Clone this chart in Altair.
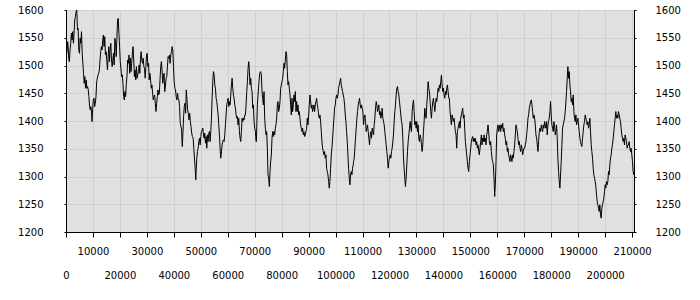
import altair as alt
import pandas as pd

# (x, value) pairs, segment by segment
seg_a = [(0,1516),(375,1525),(625,1543),(875,1528),(1000,1513),(1250,1507),(1500,1528),(1750,1540),(2000,1558),(2250,1546),(2500,1561),(2750,1540),(3000,1558),(3250,1582),(3500,1588),(3750,1597),(4000,1600),(4250,1564),(4500,1567),(4750,1528),(5000,1522),(5250,1549),(5500,1540),(5750,1561),(6000,1522),(6250,1504),(6500,1486),(6750,1468),(7000,1480),(7250,1459),(7500,1474),(7750,1459),(8000,1462),(8250,1456),(8500,1444),(8750,1426),(9000,1420),(9250,1426),(9500,1414),(9625,1399),(9875,1420),(10125,1438),(10375,1441),(10625,1426),(10875,1432),(11125,1444),(11375,1471),(11625,1477),(11875,1483),(12125,1486),(12375,1492),(12625,1510),(12875,1525),(13125,1534),(13375,1528),(13625,1546),(13875,1555),(14125,1534),(14375,1552),(14625,1519),(14875,1525),(15125,1510),(15375,1492),(15625,1513),(15875,1534),(16125,1507),(16375,1528),(16625,1540),(16875,1510),(17125,1498),(17375,1510),(17625,1522),(17875,1501),(18125,1549),(18375,1540),(18625,1516),(18875,1549),(19125,1582),(19375,1585),(19625,1558),(19875,1534),(20125,1507),(20375,1495),(20625,1480),(20875,1483),(21125,1468),(21375,1444),(21625,1438),(21875,1453),(22125,1444),(22375,1468),(22625,1480),(22875,1510),(23125,1504),(23375,1519),(23625,1486),(23875,1513),(24125,1489),(24375,1504),(24625,1522),(24875,1534),(25125,1510),(25375,1480),(25625,1492),(25875,1474),(26125,1498),(26375,1477),(26625,1483),(26875,1489),(27125,1501),(27375,1486),(27625,1513),(27875,1525),(28125,1510),(28375,1504),(28625,1513),(28875,1498),(29125,1495),(29375,1477),(29625,1498),(29875,1519),(30125,1522),(30375,1498),(30625,1504),(30875,1474),(31125,1486),(31375,1474),(31625,1459),(31875,1465),(32125,1450),(32375,1438),(32625,1444),(32875,1447),(33125,1432),(33375,1417),(33625,1432),(33875,1444),(34125,1456),(34375,1447),(34625,1450),(34875,1474),(35125,1498),(35375,1507),(35625,1492),(35875,1468),(36125,1477),(36375,1486),(36625,1453),(36875,1462),(37125,1477),(37375,1480),(37625,1498),(37875,1516),(38125,1513),(38375,1519),(38625,1504),(38875,1519),(39125,1525),(39375,1534),(39625,1528),(39875,1498),(40125,1471),(40375,1459),(40625,1456),(40875,1444),(41125,1438),(41375,1450),(41625,1441),(41875,1438),(42125,1426),(42375,1396),(42625,1390),(42875,1384),(43125,1354),(43375,1378),(43625,1408),(43875,1426),(44125,1432),(44375,1414),(44625,1456),(44875,1438),(45125,1420),(45375,1414),(45625,1402),(45875,1414),(46125,1399),(46375,1390),(46625,1378),(46875,1372)]

seg_b = [(47163,1369),(47410,1351),(47657,1333),(47904,1315),(48151,1294),(48275,1309),(48522,1333),(48769,1345),(49016,1351),(49263,1363),(49510,1369),(49757,1357),(50004,1372),(50251,1381),(50498,1384),(50745,1387),(50992,1375),(51239,1369),(51486,1378),(51733,1360),(51980,1372),(52227,1351),(52474,1375),(52721,1363),(52968,1378),(53215,1381),(53462,1363),(53709,1381),(53956,1405),(54203,1441),(54450,1471),(54697,1489),(54944,1483),(55191,1465),(55438,1459),(55685,1441),(55932,1435),(56179,1423),(56426,1411),(56673,1393),(56920,1375),(57167,1351),(57414,1333),(57661,1345),(57908,1357),(58155,1363),(58402,1366),(58649,1363),(58896,1375),(59143,1393),(59390,1411),(59637,1429),(59884,1435),(60131,1441),(60378,1426),(60625,1435),(60872,1429),(61119,1447),(61366,1465),(61613,1477),(61860,1459),(62107,1447),(62354,1441),(62601,1429),(62848,1423),(63095,1411),(63342,1405),(63589,1408),(63836,1393),(64083,1405),(64330,1381),(64577,1369),(64824,1363),(65071,1381),(65318,1405),(65565,1399),(65812,1405),(66059,1402),(66306,1411),(66553,1411),(66800,1429),(67047,1453),(67294,1471),(67541,1495),(67788,1507),(68035,1489),(68282,1465),(68529,1477),(68776,1459),(69023,1453),(69270,1423),(69517,1429),(69764,1399),(70011,1387),(70258,1381),(70505,1363)]

seg_c = [(70614,1363),(70985,1429),(71232,1447),(71602,1471),(71849,1486),(72220,1489),(72467,1483),(72714,1453),(72961,1441),(73208,1429),(73455,1453),(73702,1405),(73949,1387),(74196,1375),(74443,1381),(74690,1351),(74937,1303),(75184,1297),(75431,1282),(75678,1309),(75925,1327),(76172,1339),(76419,1369),(76666,1381),(76913,1372),(77160,1381),(77407,1375),(77654,1387),(77901,1393),(78148,1405),(78395,1429),(78642,1435),(78889,1417),(79136,1423),(79383,1435),(79630,1459),(79877,1465),(80124,1471),(80371,1477),(80618,1489),(80865,1504),(81112,1495),(81359,1510),(81606,1525),(81853,1519),(82100,1489),(82347,1465),(82594,1471),(82841,1459),(83088,1447),(83335,1429),(83582,1411),(83829,1441),(84076,1417),(84323,1429),(84570,1447),(84817,1435),(85064,1453),(85311,1417),(85558,1435),(85805,1417),(86052,1429),(86299,1411),(86546,1417),(86793,1405),(87040,1393),(87287,1387),(87534,1381),(87781,1387),(88028,1375),(88275,1381),(88522,1372),(88769,1375),(89016,1381),(89263,1387),(89510,1405),(89757,1393),(90004,1411),(90251,1429),(90498,1447),(90745,1435),(90992,1423),(91239,1429),(91486,1417),(91733,1423),(91980,1429),(92227,1417),(92474,1429),(92721,1435),(92968,1441),(93215,1429),(93462,1423),(93709,1411),(93956,1405),(94203,1411),(94450,1399),(94697,1381),(94944,1363),(95191,1351),(95438,1345),(95685,1339),(95932,1345),(96179,1333),(96426,1339),(96673,1315),(96920,1309),(97167,1303),(97414,1291),(97661,1279),(97908,1291),(98155,1315),(98402,1339),(98649,1351),(98896,1369),(99143,1387),(99390,1405),(99637,1423),(99884,1429),(100131,1441),(100378,1447),(100625,1441),(100872,1447),(101119,1459),(101366,1465),(101613,1471),(101860,1477),(102107,1465),(102354,1459),(102601,1453),(102848,1447),(103095,1441),(103342,1429),(103589,1411),(103836,1399),(104083,1381),(104330,1363),(104577,1339),(104824,1315),(105071,1297),(105318,1285),(105565,1303),(105812,1309),(106059,1303),(106306,1315),(106553,1321)]

seg_d = [(106666,1327),(106913,1333),(107160,1351),(107407,1369),(107654,1387),(107901,1405),(108148,1417),(108395,1429),(108642,1435),(108889,1441),(109136,1429),(109383,1423),(109630,1429),(109877,1423),(110124,1417),(110371,1393),(110618,1405),(110865,1411),(111112,1399),(111359,1381),(111606,1387),(111853,1393),(112100,1381),(112347,1369),(112594,1357),(112841,1375),(113088,1381),(113335,1369),(113582,1387),(113829,1381),(114076,1375),(114323,1393),(114570,1405),(114817,1423),(115064,1435),(115311,1429),(115558,1417),(115805,1423),(116052,1429),(116299,1411),(116546,1417),(116793,1405),(117040,1411),(117287,1423),(117534,1405),(117781,1399),(118028,1393),(118275,1381),(118522,1369),(118769,1357),(119016,1345),(119263,1333),(119510,1315),(119757,1327),(120004,1333),(120251,1339),(120498,1333),(120745,1345),(120992,1351),(121239,1363),(121486,1375),(121733,1399),(121980,1417),(122227,1429),(122474,1447),(122721,1459),(122968,1462),(123215,1453),(123462,1447),(123709,1435),(123956,1423),(124203,1411),(124450,1399),(124697,1393),(124944,1369),(125191,1333),(125438,1315),(125685,1297),(125932,1282),(126179,1297),(126426,1321),(126673,1345),(126920,1363),(127167,1375),(127414,1387),(127661,1399),(127908,1387),(128155,1381),(128402,1417),(128649,1429),(128896,1438),(129143,1417),(129390,1393),(129637,1399),(129884,1387),(130131,1399),(130378,1381),(130625,1393),(130872,1369),(131119,1363),(131366,1375),(131613,1369),(131860,1357),(132107,1345),(132354,1357),(132601,1381),(132848,1399),(133095,1423),(133342,1411),(133589,1405),(133836,1429),(134083,1447),(134330,1471),(134577,1459),(134824,1453),(135071,1435),(135318,1417),(135565,1405),(135812,1423),(136059,1435),(136306,1441),(136553,1429),(136800,1417),(137047,1429),(137294,1441),(137541,1435),(137788,1447),(138035,1459),(138282,1453),(138529,1465),(138776,1459),(139023,1471),(139270,1483),(139517,1465),(139764,1453),(140011,1459),(140258,1447),(140505,1441),(140752,1453),(140999,1447),(141246,1459),(141493,1465),(141740,1453),(141987,1441)]

seg_e = [(142219,1441),(142466,1417),(142713,1405),(142960,1393),(143207,1411),(143454,1405),(143701,1399),(143948,1405),(144195,1393),(144442,1381),(144689,1375),(144936,1351),(145183,1381),(145430,1387),(145677,1393),(145924,1399),(146171,1387),(146418,1405),(146665,1411),(146912,1417),(147159,1423),(147406,1405),(147653,1411),(147900,1387),(148147,1363),(148394,1351),(148641,1339),(148888,1327),(149135,1315),(149382,1309),(149629,1327),(149876,1339),(150123,1351),(150370,1363),(150617,1369),(150864,1372),(151111,1363),(151358,1369),(151605,1363),(151852,1369),(152099,1357),(152346,1363),(152593,1351),(152840,1357),(153087,1345),(153334,1339),(153581,1351),(153828,1363),(154075,1375),(154322,1357),(154569,1369),(154816,1363),(155063,1375),(155310,1363),(155557,1369),(155804,1357),(156051,1375),(156298,1381),(156545,1393),(156792,1381),(157039,1363),(157286,1357),(157533,1363),(157780,1345),(158027,1333),(158274,1327),(158521,1321),(158768,1297),(159015,1264),(159262,1285),(159509,1327),(159756,1375),(160003,1387),(160250,1393),(160497,1381),(160744,1387),(160991,1393),(161238,1381),(161485,1393),(161732,1387),(161979,1396),(162226,1381),(162473,1387),(162720,1375),(162967,1369),(163214,1357),(163461,1363),(163708,1345),(163955,1351),(164202,1339),(164449,1333),(164696,1327),(164943,1339),(165190,1333),(165437,1327),(165684,1339),(165931,1333),(166178,1345),(166425,1357),(166672,1375),(166919,1393),(167166,1387),(167413,1381),(167660,1369),(167907,1357),(168154,1363),(168401,1351),(168648,1345),(168895,1357),(169142,1351),(169389,1339),(169636,1345),(169883,1351),(170130,1351),(170377,1357),(170624,1363),(170871,1375),(171118,1387),(171365,1405),(171612,1411),(171859,1423),(172106,1429),(172353,1435),(172600,1438),(172847,1429),(173094,1417),(173341,1405),(173588,1411),(173835,1405),(174082,1393),(174329,1375),(174576,1369),(174823,1357),(175070,1345),(175317,1363),(175564,1381),(175811,1387),(176058,1381),(176305,1393),(176552,1387),(176799,1381),(177046,1393),(177293,1387),(177540,1399),(177787,1393)]

seg_f = [(178024,1387),(178271,1399),(178518,1375),(178765,1393),(179012,1399),(179259,1405),(179506,1417),(179753,1435),(180000,1411),(180247,1393),(180494,1387),(180741,1381),(180988,1399),(181235,1393),(181482,1375),(181729,1381),(181976,1393),(182223,1369),(182470,1333),(182717,1309),(182964,1291),(183211,1279),(183458,1303),(183705,1327),(183952,1357),(184199,1387),(184446,1393),(184693,1399),(184940,1405),(185187,1417),(185434,1435),(185681,1453),(185928,1477),(186175,1498),(186422,1477),(186669,1489),(186916,1465),(187163,1453),(187410,1435),(187657,1441),(187904,1429),(188151,1447),(188398,1417),(188645,1405),(188892,1399),(189139,1411),(189386,1393),(189633,1399),(189880,1405),(190127,1393),(190374,1381),(190621,1369),(190868,1363),(191115,1357),(191362,1354),(191609,1369),(191856,1381),(192103,1393),(192350,1399),(192597,1411),(192844,1405),(193091,1399),(193338,1393),(193585,1399),(193832,1387),(194079,1393),(194326,1405),(194573,1381),(194820,1357),(195067,1345),(195314,1333),(195561,1315),(195808,1303),(196055,1297),(196302,1291),(196549,1282),(196796,1267),(197043,1255),(197290,1249),(197537,1243),(197784,1237),(198031,1249),(198278,1231),(198525,1225),(198772,1243),(199019,1249),(199266,1255),(199513,1261),(199760,1273),(200007,1285),(200254,1279),(200501,1291),(200748,1285),(200995,1291),(201242,1309),(201489,1303),(201736,1321),(201983,1333),(202230,1339),(202477,1351),(202724,1357),(202971,1369),(203218,1381),(203465,1393),(203712,1405),(203959,1417),(204206,1405),(204453,1411),(204700,1405),(204947,1417),(205194,1411),(205441,1405),(205688,1399),(205935,1387),(206182,1375),(206429,1369),(206676,1363),(206923,1369),(207170,1357),(207417,1375),(207664,1369),(207911,1363),(208158,1351),(208405,1357),(208652,1357),(208899,1363),(209146,1351),(209393,1345),(209640,1351),(209887,1339),(210134,1327),(210381,1309),(210628,1303)]

x_ticks_all = [0, 10000, 20000, 30000, 40000, 50000, 60000, 70000, 80000, 90000, 100000,
               110000, 120000, 130000, 140000, 150000, 160000, 170000, 180000, 190000, 200000, 210000]
x_ticks_even = [0, 20000, 40000, 60000, 80000, 100000, 120000, 140000, 160000, 180000, 200000]
y_ticks = [1200, 1250, 1300, 1350, 1400, 1450, 1500, 1550, 1600]

rows = []
for seg in (seg_a, seg_b, seg_c, seg_d, seg_e, seg_f):
    for xv, yv in seg:
        rows.append({"x": xv, "v": yv})
df = pd.DataFrame(rows)

xscale = alt.Scale(domain=[0, 210700], nice=False, zero=False)
yscale = alt.Scale(domain=[1200, 1600], nice=False, zero=False)

main = alt.Chart(df).mark_line(color="black", strokeWidth=1, clip=True).encode(
    x=alt.X("x:Q", scale=xscale,
            axis=alt.Axis(orient="bottom", values=x_ticks_all, format="d", title=None,
                          grid=True, ticks=True, tickSize=5, labelPadding=9,
                          labelExpr="datum.value % 20000 == 10000 ? datum.label : ''")),
    y=alt.Y("v:Q", scale=yscale,
            axis=alt.Axis(orient="left", values=y_ticks, format="d", title=None,
                          grid=True, ticks=True, tickSize=2, labelPadding=21)),
)

second = alt.Chart(df).mark_line(opacity=0, clip=True).encode(
    x=alt.X("x:Q", scale=xscale,
            axis=alt.Axis(orient="bottom", values=x_ticks_even, format="d", title=None,
                          grid=False, domain=False, ticks=True, tickOpacity=0, tickSize=5,
                          labelPadding=33)),
    y=alt.Y("v:Q", scale=yscale,
            axis=alt.Axis(orient="right", values=y_ticks, format="d", title=None,
                          grid=False, ticks=True, tickSize=2, labelPadding=19)),
)

chart = alt.layer(main, second).resolve_axis(x="independent", y="independent").properties(
    width=568, height=222,
    autosize=alt.AutoSizeParams(type="none"),
    padding={"left": 66, "top": 10, "right": 66, "bottom": 68},
    background="white",
).configure_axis(
    labelFont="DejaVu Sans", labelFontSize=10, labelColor="black",
    domainColor="black", tickColor="black", gridColor="#d0d0d0", gridWidth=1,
    labelOverlap=False, labelFlush=False,
).configure_view(fill="#e0e0e0", stroke="black", strokeWidth=1)

chart.save("out.html", embed_options={"renderer": "svg", "actions": False})
